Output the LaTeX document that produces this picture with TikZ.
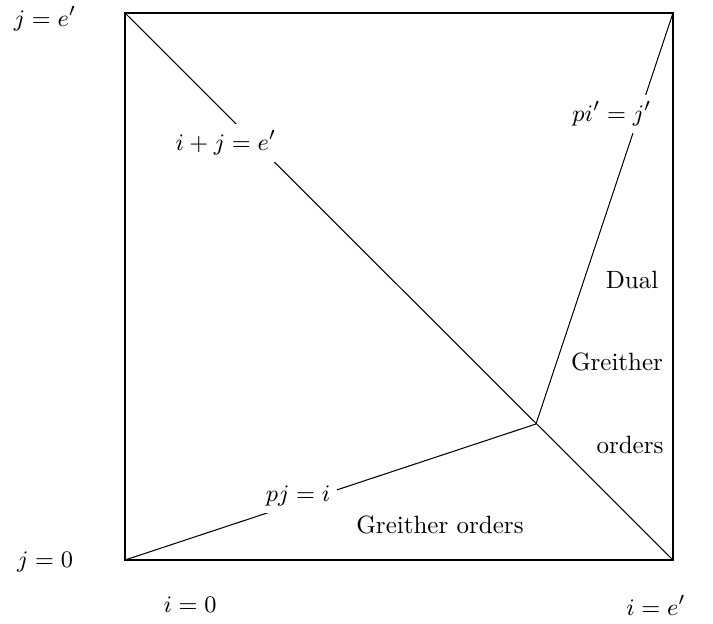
\documentclass[tikz,border=0pt]{standalone}
\usepackage{amsmath}
\usepackage{tikz}

\begin{document}
\begin{tikzpicture}[x=0.38pt, y=-0.38pt, font=\fontsize{9.5pt}{11pt}\selectfont,
    lbl/.style={fill=white, inner sep=2.5pt}]
    \useasboundingbox (0,0) rectangle (713,623);

    % 正方形的四个角
    \coordinate (bl) at (125,560);
    \coordinate (br) at (673,560);
    \coordinate (tl) at (125,13);
    \coordinate (tr) at (673,13);
    \coordinate (meet) at (536,424);

    \draw (bl) rectangle (tr);

    % 三条分界线
    \draw (tl) -- (br);
    \draw (bl) -- (meet);
    \draw (meet) -- (tr);

    % 线上的标注
    \node[lbl] (diag) at (226,143) {$i+j=e'$};
    \node[lbl] (lower) at (298,496) {$pj=i$};
    \node[lbl] (upper) at (612,114) {$pi'=j'$};

    % 区域
    \node (dual) at (632,280) {Dual};
    \node (greitherR) at (617,362) {Greither};
    \node (ordersR) at (630,445) {orders};
    \node (greither) at (440,525) {Greither orders};

    % 坐标轴端点
    \node (jtop) at (45,19) {$j=e'$};
    \node (jbot) at (45,562) {$j=0$};
    \node (ileft) at (190,605) {$i=0$};
    \node (iright) at (656,605) {$i=e'$};
\end{tikzpicture}
\end{document}
